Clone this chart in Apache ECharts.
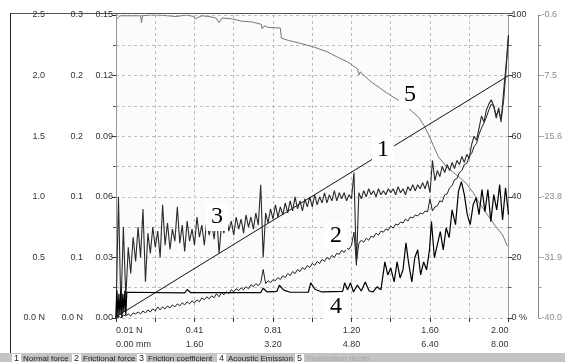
<!DOCTYPE html>
<html>
<head>
<meta charset="utf-8">
<script src="https://cdn.jsdelivr.net/npm/echarts@6/dist/echarts.min.js"></script>
<style>
html, body { margin: 0; padding: 0; background: #fff; }
#scratchChart { width: 565px; height: 362px; }
</style>
</head>
<body>
<div id="scratchChart"></div>
<script>
// tick labels as printed by the scratch tester
const normalForceTicks = ['0.0 N', '0.5', '1.0', '1.5', '2.0', '2.5'];
const frictionForceTicks = ['0.0 N', '0.1', '0.1', '0.2', '0.2', '0.3'];
const coefTicks = ['0.00', '0.03', '0.06', '0.09', '0.12', '0.15'];
const aeTicks = ['0 %', '20', '40', '60', '80', '100'];
const depthTicks = ['-40.0', '-31.9', '-23.8', '-15.6', '-7.5', '-0.6'];
const loadTicks = ['0.01 N', '0.41', '0.81', '1.20', '1.60', '2.00'];
const distTicks = ['0.00 mm', '1.60', '3.20', '4.80', '6.40', '8.00'];
const legendNames = ['Normal force', 'Frictional force', 'Friction coefficient', 'Acoustic Emission', 'Penetration depth'];

// 1 normal force (N) vs distance (mm)
const normalForce = [[0, 0.01], [8, 2.0]];

// 2 frictional force (N), sampled every 0.05 mm
const frictionStep = 0.05;
const frictionForce = [
  0.000, 0.002, 0.000, 0.003, 0.002, 0.004, 0.002, 0.005, 0.004, 0.006,
  0.004, 0.007, 0.005, 0.008, 0.006, 0.009, 0.007, 0.011, 0.008, 0.011,
  0.009, 0.012, 0.010, 0.013, 0.011, 0.014, 0.012, 0.015, 0.013, 0.016,
  0.014, 0.017, 0.015, 0.018, 0.016, 0.020, 0.018, 0.021, 0.019, 0.022,
  0.020, 0.024, 0.021, 0.025, 0.023, 0.026, 0.024, 0.028, 0.026, 0.029,
  0.027, 0.030, 0.028, 0.031, 0.029, 0.033, 0.031, 0.034, 0.032, 0.035,
  0.048, 0.034, 0.037, 0.035, 0.038, 0.037, 0.040, 0.038, 0.042, 0.040,
  0.044, 0.042, 0.046, 0.044, 0.048, 0.046, 0.050, 0.048, 0.052, 0.050,
  0.054, 0.052, 0.056, 0.054, 0.058, 0.056, 0.060, 0.058, 0.062, 0.060,
  0.064, 0.063, 0.067, 0.065, 0.069, 0.068, 0.072, 0.085, 0.055, 0.074,
  0.077, 0.075, 0.079, 0.077, 0.081, 0.080, 0.084, 0.082, 0.086, 0.085,
  0.088, 0.087, 0.091, 0.089, 0.093, 0.092, 0.095, 0.094, 0.098, 0.096,
  0.100, 0.099, 0.102, 0.101, 0.104, 0.103, 0.106, 0.105, 0.118, 0.106,
  0.110, 0.111, 0.116, 0.115, 0.122, 0.123, 0.129, 0.131, 0.137, 0.138,
  0.144, 0.146, 0.152, 0.153, 0.160, 0.163, 0.170, 0.173, 0.182, 0.188,
  0.193, 0.199, 0.206, 0.212, 0.209, 0.201, 0.205, 0.197, 0.215, 0.245,
  0.280
];

// 3 friction coefficient, sampled every 0.05 mm
const coefficient = [
  0.000, 0.060, 0.004, 0.045, 0.010, 0.035, 0.022, 0.040, 0.028, 0.045,
  0.030, 0.054, 0.018, 0.042, 0.032, 0.045, 0.035, 0.043, 0.030, 0.056,
  0.036, 0.047, 0.034, 0.044, 0.038, 0.055, 0.037, 0.046, 0.033, 0.048,
  0.038, 0.044, 0.036, 0.050, 0.040, 0.046, 0.036, 0.048, 0.041, 0.047,
  0.039, 0.052, 0.032, 0.046, 0.042, 0.050, 0.043, 0.048, 0.041, 0.050,
  0.044, 0.049, 0.042, 0.051, 0.045, 0.050, 0.044, 0.052, 0.046, 0.066,
  0.030, 0.052, 0.047, 0.054, 0.049, 0.056, 0.050, 0.055, 0.051, 0.057,
  0.052, 0.058, 0.053, 0.060, 0.054, 0.058, 0.053, 0.059, 0.055, 0.060,
  0.055, 0.061, 0.056, 0.060, 0.057, 0.062, 0.057, 0.061, 0.058, 0.063,
  0.058, 0.062, 0.059, 0.062, 0.058, 0.061, 0.059, 0.072, 0.026, 0.062,
  0.059, 0.063, 0.060, 0.064, 0.061, 0.063, 0.060, 0.064, 0.061, 0.063,
  0.061, 0.064, 0.062, 0.064, 0.061, 0.065, 0.062, 0.064, 0.061, 0.065,
  0.063, 0.066, 0.063, 0.066, 0.064, 0.067, 0.064, 0.068, 0.062, 0.078,
  0.068, 0.073, 0.070, 0.075, 0.072, 0.076, 0.073, 0.077, 0.074, 0.078,
  0.076, 0.080, 0.077, 0.081, 0.079, 0.086, 0.090, 0.088, 0.094, 0.100,
  0.097, 0.103, 0.106, 0.108, 0.105, 0.099, 0.104, 0.097, 0.112, 0.125,
  0.140
];

// 4 acoustic emission (%)
const acoustic = [
  [0.00, 0], [0.02, 9], [0.04, 0], [0.06, 8], [0.08, 1], [0.10, 9], [0.12, 0], [0.14, 8],
  [0.16, 2], [0.18, 9], [0.20, 1], [0.22, 8.5], [0.24, 8.3], [1.40, 8.3], [1.45, 9.4],
  [1.52, 8.4], [2.95, 8.4], [3.00, 9.8], [3.08, 8.6], [3.28, 8.8], [3.33, 10.8], [3.42, 9.2],
  [3.55, 8.5], [3.92, 8.5], [3.97, 11.6], [4.06, 9.4], [4.20, 8.6], [4.62, 8.8],
  [4.66, 11.6], [4.72, 9.3], [4.78, 11.6], [4.84, 8.6], [4.92, 10.9], [5.00, 8.9],
  [5.08, 11.9], [5.16, 8.9], [5.24, 8.6], [5.32, 10.3], [5.40, 9.3], [5.48, 18.5],
  [5.54, 14.2], [5.60, 16.5], [5.67, 11.9], [5.73, 18.5], [5.79, 13.2], [5.85, 15.9],
  [5.91, 24.8], [5.97, 17.5], [6.03, 11.9], [6.09, 19.9], [6.15, 22.5], [6.21, 14.2],
  [6.27, 18.5], [6.33, 15.9], [6.39, 22.5], [6.43, 31.8], [6.49, 19.9], [6.55, 24.2],
  [6.61, 28.5], [6.67, 22.5], [6.73, 29.8], [6.79, 26.5], [6.85, 35.7], [6.92, 30.8],
  [6.98, 41.7], [7.04, 45.0], [7.10, 40.7], [7.16, 34.1], [7.22, 30.8], [7.28, 37.4],
  [7.34, 39.7], [7.40, 34.1], [7.46, 42.4], [7.52, 35.1], [7.58, 42.4], [7.64, 31.8],
  [7.70, 40.7], [7.76, 35.7], [7.82, 44.0], [7.88, 32.4], [7.94, 43.0], [8.00, 34.1]
];

// 5 penetration depth (um)
const depth = [
  [0.02, -1.1], [0.08, -0.7], [0.28, -0.7], [0.50, -0.7], [0.52, -1.6], [0.54, -0.7],
  [0.69, -0.6], [0.89, -0.6], [1.05, -0.7], [1.23, -0.8], [1.25, -1.0], [1.43, -0.6],
  [1.59, -0.8], [1.61, -1.1], [1.75, -0.7], [1.90, -0.8], [2.04, -1.0], [2.10, -1.6],
  [2.16, -1.0], [2.36, -1.1], [2.56, -1.4], [2.76, -1.5], [2.96, -1.8], [2.98, -2.4],
  [3.02, -2.0], [3.10, -2.2], [3.35, -2.3], [3.37, -3.6], [3.51, -3.9], [3.77, -4.3],
  [4.05, -4.8], [4.31, -5.4], [4.52, -6.1], [4.72, -6.7], [4.92, -7.6], [4.96, -8.4],
  [4.98, -8.0], [5.18, -9.2], [5.38, -10.1], [5.58, -11.0], [5.79, -11.8], [5.99, -12.9],
  [6.17, -13.9], [6.29, -15.1], [6.39, -16.4], [6.47, -17.6], [6.57, -19.0], [6.73, -20.3],
  [6.88, -21.1], [7.00, -21.7], [7.14, -22.5], [7.28, -23.7], [7.40, -25.0], [7.54, -26.3],
  [7.74, -28.1], [7.88, -29.2], [7.98, -30.7]
];

const depthMin = -40, depthMax = -0.6;
const depthStep = (depthMax - depthMin) / 5;
const depthTickValues = [0, 1, 2, 3, 4, 5].map(k => depthMin + k * depthStep);
const depthMinorValues = [];
for (let k = 0; k < 10; k++) depthMinorValues.push(depthMin + k * depthStep / 2);
depthMinorValues.push(depthMax);

const labelFont = { fontSize: 9, fontFamily: 'Arial', color: '#333' };
const grayDash = { color: '#bdbdbd', type: [3, 3], width: 1 };

function leftAxis(max, interval, ticks, offset, lineColor) {
  return {
    type: 'value', position: 'left', min: 0, max: max, interval: interval, offset: offset,
    axisLine: { show: true, lineStyle: { color: lineColor, width: 1 } },
    axisTick: { show: true, length: 4, lineStyle: { color: '#333' } },
    minorTick: { show: true, splitNumber: 2, length: 3, lineStyle: { color: '#555' } },
    axisLabel: Object.assign({ margin: 3, formatter: v => ticks[Math.round(v / interval)] }, labelFont),
    splitLine: { show: false }
  };
}

let chart = echarts.init(document.getElementById('scratchChart'));

const legendGraphics = [
  { type: 'rect', shape: { x: 0, y: 353, width: 565, height: 9 }, style: { fill: '#c4c4c4' } }
];
const legendX = [12, 72, 137, 217, 295];
legendNames.forEach((name, i) => {
  const x = legendX[i];
  legendGraphics.push({ type: 'rect', shape: { x: x, y: 354, width: 9, height: 8 }, style: { fill: '#fff' } });
  legendGraphics.push({ type: 'text', x: x + 4.5, y: 358.5, style: { text: String(i + 1), fill: '#222', font: '9px Arial', textAlign: 'center', textVerticalAlign: 'middle' } });
  legendGraphics.push({ type: 'text', x: x + 11, y: 358.5, style: { text: name, fill: i === 4 ? '#a8a8a8' : '#222', font: '8px Arial', textAlign: 'left', textVerticalAlign: 'middle' } });
});

const curveLabels = [['1', 383, 150], ['2', 336, 236], ['3', 217, 217], ['4', 336, 307], ['5', 410, 95]];
const labelGraphics = curveLabels.map(l => ({
  type: 'text', x: l[1], y: l[2], z: 100,
  style: {
    text: l[0], fill: '#000', font: '24px "Liberation Serif"', textAlign: 'center', textVerticalAlign: 'middle',
    backgroundColor: '#fff', padding: [2, 5, 2, 5]
  }
}));

chart.setOption({
  animation: false,
  backgroundColor: '#fff',
  grid: { left: 116, right: 52, top: 15, bottom: 44, show: true, backgroundColor: '#fbfbfb', borderWidth: 0 },
  xAxis: [
    {
      type: 'value', position: 'bottom', min: 0, max: 8, interval: 0.8,
      axisLine: { show: false },
      axisTick: { show: true, length: 4, lineStyle: { color: '#333' } },
      axisLabel: Object.assign({
        margin: 8, alignMinLabel: 'left', alignMaxLabel: 'right',
        formatter: v => { const k = Math.round(v / 0.8); return k % 2 === 0 ? loadTicks[k / 2] : ''; }
      }, labelFont),
      splitLine: { show: true, lineStyle: grayDash }
    },
    {
      type: 'value', position: 'bottom', offset: 19, min: 0, max: 8, interval: 0.8,
      axisLine: { show: false },
      axisTick: { show: true, length: 3, lineStyle: { color: '#333' } },
      axisLabel: Object.assign({
        margin: 3, alignMinLabel: 'left', alignMaxLabel: 'right',
        formatter: v => { const k = Math.round(v / 0.8); return k % 2 === 0 ? distTicks[k / 2] : ''; }
      }, labelFont),
      splitLine: { show: false }
    }
  ],
  yAxis: [
    leftAxis(2.5, 0.5, normalForceTicks, 68, '#222'),
    leftAxis(0.3, 0.06, frictionForceTicks, 30, '#222'),
    Object.assign(leftAxis(0.15, 0.03, coefTicks, 0, '#999'), {
      splitLine: { show: true, lineStyle: grayDash },
      minorSplitLine: { show: true, lineStyle: grayDash }
    }),
    {
      type: 'value', position: 'right', min: 0, max: 100, interval: 20, offset: 0,
      axisLine: { show: true, lineStyle: { color: '#999', width: 1 } },
      axisTick: { show: true, length: 4, lineStyle: { color: '#333' } },
      minorTick: { show: true, splitNumber: 2, length: 3, lineStyle: { color: '#555' } },
      axisLabel: Object.assign({ margin: 3, formatter: v => aeTicks[Math.round(v / 20)] }, labelFont),
      splitLine: { show: false }
    },
    {
      type: 'value', position: 'right', min: depthMin, max: depthMax, offset: 30,
      axisLine: { show: true, lineStyle: { color: '#888', width: 1 } },
      axisTick: { show: true, length: 3, customValues: depthMinorValues, lineStyle: { color: '#999' } },
      axisLabel: {
        margin: 3, fontSize: 9, fontFamily: 'Arial', color: '#8a8a8a', customValues: depthTickValues,
        formatter: v => depthTicks[Math.round((v - depthMin) / depthStep)]
      },
      splitLine: { show: false }
    }
  ],
  series: [
    {
      name: legendNames[4], type: 'line', yAxisIndex: 4, data: depth, symbol: 'none',
      lineStyle: { color: '#777', width: 1 }, z: 2
    },
    {
      name: legendNames[0], type: 'line', yAxisIndex: 0, data: normalForce, symbol: 'none',
      lineStyle: { color: '#111', width: 1 }, z: 3
    },
    {
      name: legendNames[1], type: 'line', yAxisIndex: 1, symbol: 'none',
      data: frictionForce.map((v, i) => [i * frictionStep, v]),
      lineStyle: { color: '#222', width: 1 }, z: 4
    },
    {
      name: legendNames[2], type: 'line', yAxisIndex: 2, symbol: 'none',
      data: coefficient.map((v, i) => [i * frictionStep, v]),
      lineStyle: { color: '#2a2a2a', width: 1.1 }, z: 5
    },
    {
      name: legendNames[3], type: 'line', yAxisIndex: 3, data: acoustic, symbol: 'none',
      lineStyle: { color: '#000', width: 1.2 }, z: 6
    }
  ],
  graphic: [
    { type: 'line', shape: { x1: 10, y1: 13.5, x2: 513, y2: 13.5 }, style: { stroke: '#555', lineWidth: 1 } },
    { type: 'line', shape: { x1: 10.5, y1: 13, x2: 10.5, y2: 353 }, style: { stroke: '#222', lineWidth: 1 } }
  ].concat(legendGraphics, labelGraphics)
});
</script>
</body>
</html>
